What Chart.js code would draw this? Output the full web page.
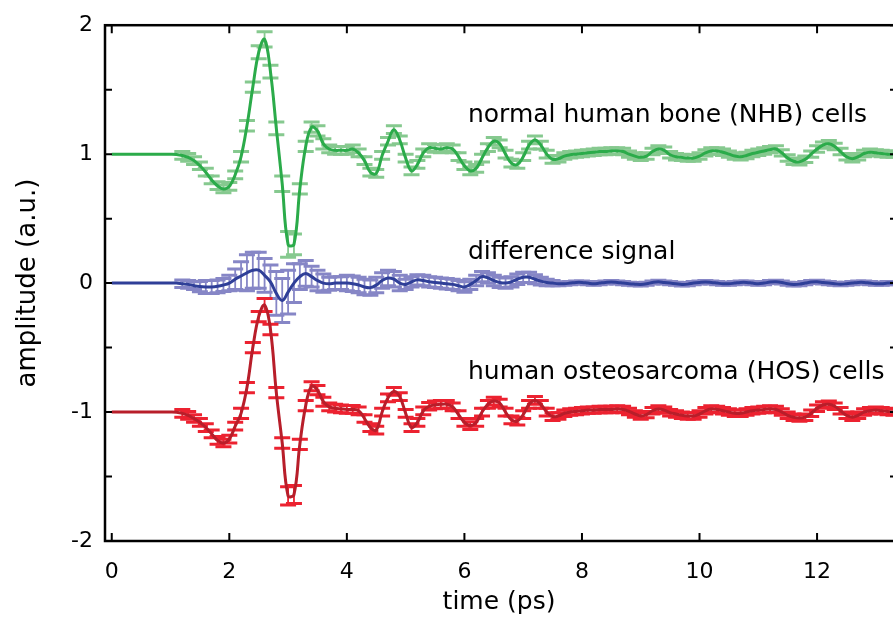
<!DOCTYPE html>
<html>
<head>
<meta charset="utf-8">
<title>THz pulses - NHB vs HOS cells</title>
<script src="https://cdn.jsdelivr.net/npm/chart.js@4.4.1/dist/chart.umd.min.js"></script>
<style>
  html, body { margin: 0; padding: 0; background: #fff; overflow: hidden; }
  canvas { display: block; }
</style>
</head>
<body>
<canvas id="pulseChart" width="905" height="619"></canvas>
<script>
// time axis (ps)
const times = [
  0.0, 0.1, 0.2, 0.3, 0.4, 0.5, 0.6, 0.7, 0.8, 0.9,
  1.0, 1.1, 1.2, 1.3, 1.4, 1.5, 1.6, 1.7, 1.8, 1.9,
  2.0, 2.1, 2.2, 2.3, 2.4, 2.5, 2.6, 2.7, 2.8, 2.9,
  3.0, 3.1, 3.2, 3.3, 3.4, 3.5, 3.6, 3.7, 3.8, 3.9,
  4.0, 4.1, 4.2, 4.3, 4.4, 4.5, 4.6, 4.7, 4.8, 4.9,
  5.0, 5.1, 5.2, 5.3, 5.4, 5.5, 5.6, 5.7, 5.8, 5.9,
  6.0, 6.1, 6.2, 6.3, 6.4, 6.5, 6.6, 6.7, 6.8, 6.9,
  7.0, 7.1, 7.2, 7.3, 7.4, 7.5, 7.6, 7.7, 7.8, 7.9,
  8.0, 8.1, 8.2, 8.3, 8.4, 8.5, 8.6, 8.7, 8.8, 8.9,
  9.0, 9.1, 9.2, 9.3, 9.4, 9.5, 9.6, 9.7, 9.8, 9.9,
  10.0, 10.1, 10.2, 10.3, 10.4, 10.5, 10.6, 10.7, 10.8, 10.9,
  11.0, 11.1, 11.2, 11.3, 11.4, 11.5, 11.6, 11.7, 11.8, 11.9,
  12.0, 12.1, 12.2, 12.3, 12.4, 12.5, 12.6, 12.7, 12.8, 12.9,
  13.0, 13.1, 13.2, 13.3
];

// normal human bone cells (offset +1)
const nhbSignal = [
  1, 1, 1, 1, 1, 1, 1, 1, 1, 1,
  1, 0.998, 0.99, 0.975, 0.95, 0.91, 0.86, 0.80, 0.755, 0.73,
  0.75, 0.84, 0.98, 1.22, 1.52, 1.79, 1.89, 1.64, 1.20, 0.77,
  0.30, 0.30, 0.73, 1.06, 1.21, 1.18, 1.08, 1.04, 1.03, 1.03,
  1.03, 1.04, 1.01, 0.95, 0.86, 0.85, 0.99, 1.10, 1.19, 1.11,
  0.97, 0.87, 0.92, 1.01, 1.05, 1.045, 1.04, 1.05, 1.04, 0.98,
  0.91, 0.87, 0.89, 0.97, 1.05, 1.10, 1.08, 1.00, 0.93, 0.92,
  0.98, 1.07, 1.11, 1.07, 1.00, 0.96, 0.965, 0.985, 0.995, 1.00,
  1.005, 1.01, 1.015, 1.02, 1.02, 1.025, 1.025, 1.02, 1.00, 0.985,
  0.975, 0.985, 1.02, 1.04, 1.03, 0.995, 0.98, 0.975, 0.97, 0.97,
  0.985, 1.01, 1.025, 1.025, 1.015, 1.00, 0.985, 0.98, 0.99, 1.005,
  1.015, 1.025, 1.035, 1.04, 1.01, 0.97, 0.945, 0.94, 0.96, 1.00,
  1.04, 1.07, 1.08, 1.06, 1.02, 0.98, 0.965, 0.98, 1.005, 1.015,
  1.01, 1.005, 1.0, 1.0
];
const nhbError = [
  0, 0, 0, 0, 0, 0, 0, 0, 0, 0,
  0, 0, 0.03, 0.03, 0.03, 0.03, 0.03, 0.03, 0.03, 0.03,
  0.03, 0.03, 0.04, 0.04, 0.04, 0.05, 0.06, 0.05, 0.05, 0.06,
  0.10, 0.08, 0.04, 0.04, 0.04, 0.04, 0.04, 0.03, 0.03, 0.03,
  0.03, 0.03, 0.03, 0.03, 0.03, 0.03, 0.03, 0.03, 0.03, 0.03,
  0.03, 0.03, 0.03, 0.03, 0.03, 0.03, 0.03, 0.03, 0.03, 0.03,
  0.03, 0.03, 0.03, 0.03, 0.03, 0.03, 0.03, 0.03, 0.03, 0.03,
  0.03, 0.03, 0.03, 0.03, 0.03, 0.03, 0.025, 0.025, 0.025, 0.025,
  0.025, 0.025, 0.025, 0.025, 0.025, 0.025, 0.025, 0.025, 0.025, 0.025,
  0.025, 0.025, 0.025, 0.025, 0.025, 0.025, 0.025, 0.025, 0.025, 0.025,
  0.025, 0.025, 0.025, 0.025, 0.025, 0.025, 0.025, 0.025, 0.025, 0.025,
  0.025, 0.025, 0.025, 0.025, 0.025, 0.025, 0.025, 0.025, 0.025, 0.025,
  0.025, 0.025, 0.025, 0.025, 0.025, 0.025, 0.025, 0.025, 0.025, 0.025,
  0.025, 0.025, 0.025, 0.025
];

// difference signal
const diffSignal = [
  0, 0, 0, 0, 0, 0, 0, 0, 0, 0,
  0, 0, -0.005, -0.01, -0.02, -0.027, -0.03, -0.03, -0.025, -0.015,
  0, 0.03, 0.055, 0.08, 0.10, 0.10, 0.06, 0.01, -0.08, -0.135,
  -0.07, 0, 0.05, 0.075, 0.05, 0.02, 0, -0.005, 0, 0,
  0, -0.005, -0.015, -0.03, -0.035, -0.015, 0.02, 0.04, 0.03, 0,
  -0.01, 0.01, 0.025, 0.02, 0.01, 0.005, 0, -0.005, -0.01, -0.02,
  -0.03, -0.01, 0.02, 0.05, 0.04, 0.02, 0.005, 0, 0.01, 0.03,
  0.045, 0.045, 0.03, 0.015, 0.005, 0, -0.005, -0.005, 0, 0.005,
  0.005, 0, -0.005, 0, 0.005, 0.008, 0.005, 0, -0.005, -0.008,
  -0.01, -0.005, 0.005, 0.01, 0.005, 0, -0.005, -0.01, -0.008, 0,
  0.005, 0.008, 0.005, 0, -0.005, -0.005, 0, 0.005, 0.005, 0,
  -0.005, 0, 0.008, 0.01, 0.005, -0.005, -0.01, -0.008, 0, 0.008,
  0.01, 0.005, 0, -0.005, -0.008, -0.005, 0, 0.005, 0.005, 0,
  -0.005, -0.005, 0, 0
];
const diffError = [
  0, 0, 0, 0, 0, 0, 0, 0, 0, 0,
  0, 0, 0.03, 0.03, 0.03, 0.04, 0.05, 0.05, 0.05, 0.05,
  0.06, 0.08, 0.11, 0.14, 0.14, 0.14, 0.13, 0.13, 0.17, 0.17,
  0.17, 0.15, 0.10, 0.10, 0.08, 0.08, 0.07, 0.05, 0.05, 0.05,
  0.06, 0.06, 0.06, 0.06, 0.06, 0.06, 0.06, 0.06, 0.06, 0.06,
  0.04, 0.04, 0.04, 0.04, 0.04, 0.04, 0.04, 0.04, 0.04, 0.04,
  0.04, 0.04, 0.04, 0.04, 0.04, 0.04, 0.04, 0.04, 0.04, 0.04,
  0.04, 0.04, 0.035, 0.03, 0.025, 0.02, 0.015, 0.012, 0.012, 0.012,
  0.012, 0.012, 0.012, 0.012, 0.012, 0.012, 0.012, 0.012, 0.012, 0.012,
  0.012, 0.012, 0.012, 0.012, 0.012, 0.012, 0.012, 0.012, 0.012, 0.012,
  0.012, 0.012, 0.012, 0.012, 0.012, 0.012, 0.012, 0.012, 0.012, 0.012,
  0.012, 0.012, 0.012, 0.012, 0.012, 0.012, 0.012, 0.012, 0.012, 0.012,
  0.012, 0.012, 0.012, 0.012, 0.012, 0.012, 0.012, 0.012, 0.012, 0.012,
  0.012, 0.012, 0.012, 0.012
];

// human osteosarcoma cells (offset -1)
const hosSignal = [
  -1, -1, -1, -1, -1, -1, -1, -1, -1, -1,
  -1, -1.002, -1.01, -1.025, -1.05, -1.08, -1.12, -1.17, -1.22, -1.24,
  -1.21, -1.11, -1.01, -0.81, -0.50, -0.26, -0.17, -0.36, -0.85, -1.24,
  -1.65, -1.64, -1.25, -0.95, -0.80, -0.83, -0.92, -0.96, -0.97, -0.975,
  -0.98, -0.98, -0.99, -1.05, -1.12, -1.14, -1.0, -0.89, -0.84, -0.88,
  -1.01, -1.12, -1.08, -0.99, -0.955, -0.945, -0.94, -0.94, -0.96, -1.02,
  -1.08, -1.105, -1.08, -1.0, -0.94, -0.915, -0.93, -1.0, -1.06, -1.07,
  -1.02, -0.94, -0.91, -0.94, -1.0, -1.035, -1.03, -1.01, -1.0, -0.995,
  -0.99, -0.985, -0.985, -0.98, -0.98, -0.98, -0.977, -0.98, -0.995, -1.015,
  -1.03, -1.02, -0.99, -0.977, -0.985, -1.005, -1.015, -1.025, -1.03, -1.03,
  -1.015, -0.99, -0.977, -0.98, -0.99, -1.0, -1.01, -1.01, -1.0, -0.99,
  -0.985, -0.98, -0.977, -0.98, -1.0, -1.025, -1.04, -1.047, -1.04, -1.01,
  -0.97, -0.945, -0.94, -0.955, -0.99, -1.025, -1.04, -1.025, -1.0, -0.99,
  -0.985, -0.99, -0.995, -1.0
];
const hosError = [
  0, 0, 0, 0, 0, 0, 0, 0, 0, 0,
  0, 0, 0.03, 0.03, 0.03, 0.03, 0.03, 0.03, 0.03, 0.03,
  0.03, 0.03, 0.04, 0.04, 0.04, 0.04, 0.05, 0.04, 0.04, 0.04,
  0.07, 0.07, 0.04, 0.04, 0.035, 0.035, 0.035, 0.03, 0.03, 0.03,
  0.03, 0.03, 0.03, 0.03, 0.03, 0.03, 0.03, 0.03, 0.03, 0.03,
  0.03, 0.03, 0.03, 0.03, 0.03, 0.03, 0.03, 0.03, 0.03, 0.03,
  0.03, 0.03, 0.03, 0.03, 0.03, 0.03, 0.03, 0.03, 0.03, 0.03,
  0.03, 0.03, 0.03, 0.03, 0.03, 0.03, 0.025, 0.025, 0.025, 0.025,
  0.025, 0.025, 0.025, 0.025, 0.025, 0.025, 0.025, 0.025, 0.025, 0.025,
  0.025, 0.025, 0.025, 0.025, 0.025, 0.025, 0.025, 0.025, 0.025, 0.025,
  0.025, 0.025, 0.025, 0.025, 0.025, 0.025, 0.025, 0.025, 0.025, 0.025,
  0.025, 0.025, 0.025, 0.025, 0.025, 0.025, 0.025, 0.025, 0.025, 0.025,
  0.025, 0.025, 0.025, 0.025, 0.025, 0.025, 0.025, 0.025, 0.025, 0.025,
  0.025, 0.025, 0.025, 0.025
];

const seriesNames = ['normal human bone (NHB) cells', 'difference signal', 'human osteosarcoma (HOS) cells'];
const yMinorTicks = [-1.5, -0.5, 0.5, 1.5];
const xTickValues = [0, 2, 4, 6, 8, 10, 12];

const FONT = "'DejaVu Sans', sans-serif";

function toPoints(values) {
    return times.map((t, i) => ({ x: t, y: values[i] }));
}

// error bars, drawn right under each line
const errorBarPlugin = {
    id: 'errorBars',
    beforeDatasetDraw(chart, args) {
        const ds = chart.data.datasets[args.index];
        if (!ds.errors) return;
        const { ctx, chartArea, scales } = chart;
        const x = scales.x, y = scales.y;
        ctx.save();
        ctx.beginPath();
        ctx.rect(chartArea.left, chartArea.top, chartArea.right - chartArea.left, chartArea.bottom - chartArea.top);
        ctx.clip();
        ctx.strokeStyle = ds.errorColor;
        ds.data.forEach((p, i) => {
            const e = ds.errors[i];
            if (!e) return;
            const px = x.getPixelForValue(p.x);
            const top = y.getPixelForValue(p.y + e);
            const bot = y.getPixelForValue(p.y - e);
            ctx.lineWidth = 1.8;
            ctx.beginPath();
            ctx.moveTo(px, top);
            ctx.lineTo(px, bot);
            ctx.stroke();
            ctx.lineWidth = 3;
            ctx.beginPath();
            ctx.moveTo(px - 8, top);
            ctx.lineTo(px + 8, top);
            ctx.moveTo(px - 8, bot);
            ctx.lineTo(px + 8, bot);
            ctx.stroke();
        });
        ctx.restore();
    }
};

// box frame, inward ticks, axis titles and series captions
const framePlugin = {
    id: 'frame',
    afterDraw(chart) {
        const { ctx, chartArea, scales } = chart;
        const { left, right, top, bottom } = chartArea;
        const x = scales.x, y = scales.y;
        ctx.save();
        ctx.strokeStyle = '#000';
        ctx.lineWidth = 2.5;
        ctx.strokeRect(left, top, right - left, bottom - top);

        ctx.lineWidth = 2;
        ctx.beginPath();
        const yTicks = y.ticks.map((t) => t.value).concat(yMinorTicks);
        yTicks.forEach((v) => {
            const py = y.getPixelForValue(v);
            ctx.moveTo(left, py);
            ctx.lineTo(left + 7, py);
            ctx.moveTo(right, py);
            ctx.lineTo(right - 7, py);
        });
        xTickValues.forEach((v) => {
            const px = x.getPixelForValue(v);
            ctx.moveTo(px, bottom);
            ctx.lineTo(px, bottom - 8);
            ctx.moveTo(px, top);
            ctx.lineTo(px, top + 8);
        });
        ctx.stroke();

        ctx.fillStyle = '#000';
        ctx.textAlign = 'center';
        ctx.textBaseline = 'middle';
        ctx.font = '25px ' + FONT;
        ctx.fillText('time (ps)', (left + right) / 2 - 2, 602);
        ctx.save();
        ctx.font = '26px ' + FONT;
        ctx.translate(28, (top + bottom) / 2);
        ctx.rotate(-Math.PI / 2);
        ctx.fillText('amplitude (a.u.)', 0, 0);
        ctx.restore();

        ctx.font = '25px ' + FONT;
        ctx.textAlign = 'left';
        const anchors = [1.30, 0.24, -0.69];
        seriesNames.forEach((name, i) => {
            ctx.fillText(name, x.getPixelForValue(6.06), y.getPixelForValue(anchors[i]));
        });
        ctx.restore();
    }
};

const chart = new Chart(document.getElementById('pulseChart'), {
    type: 'line',
    data: {
        datasets: [
            {
                label: seriesNames[2],
                data: toPoints(hosSignal),
                errors: hosError,
                errorColor: '#ec2230',
                borderColor: '#b81e2a',
                borderWidth: 3,
                order: 1
            },
            {
                label: seriesNames[0],
                data: toPoints(nhbSignal),
                errors: nhbError,
                errorColor: '#86c98f',
                borderColor: '#2bab4a',
                borderWidth: 3,
                order: 2
            },
            {
                label: seriesNames[1],
                data: toPoints(diffSignal),
                errors: diffError,
                errorColor: '#8686c6',
                borderColor: '#2f3f98',
                borderWidth: 3,
                order: 3
            }
        ]
    },
    options: {
        responsive: false,
        animation: false,
        events: [],
        elements: {
            point: { radius: 0 },
            line: { tension: 0.4 }
        },
        layout: { padding: { top: 22, right: 8, left: 0, bottom: 0 } },
        plugins: {
            legend: { display: false },
            tooltip: { enabled: false }
        },
        scales: {
            x: {
                type: 'linear',
                min: -0.115,
                max: 13.36,
                grid: { display: false, drawTicks: false },
                border: { display: false },
                ticks: {
                    stepSize: 2,
                    includeBounds: false,
                    maxRotation: 0,
                    padding: 18,
                    color: '#000',
                    font: { family: FONT, size: 22 }
                },
                afterFit(scale) { scale.height = 78; }
            },
            y: {
                min: -2,
                max: 2,
                grid: { display: false, drawTicks: false },
                border: { display: false },
                ticks: {
                    stepSize: 1,
                    padding: 12,
                    color: '#000',
                    font: { family: FONT, size: 22 }
                },
                afterFit(scale) { scale.width = 105; }
            }
        }
    },
    plugins: [errorBarPlugin, framePlugin]
});
</script>
</body>
</html>
